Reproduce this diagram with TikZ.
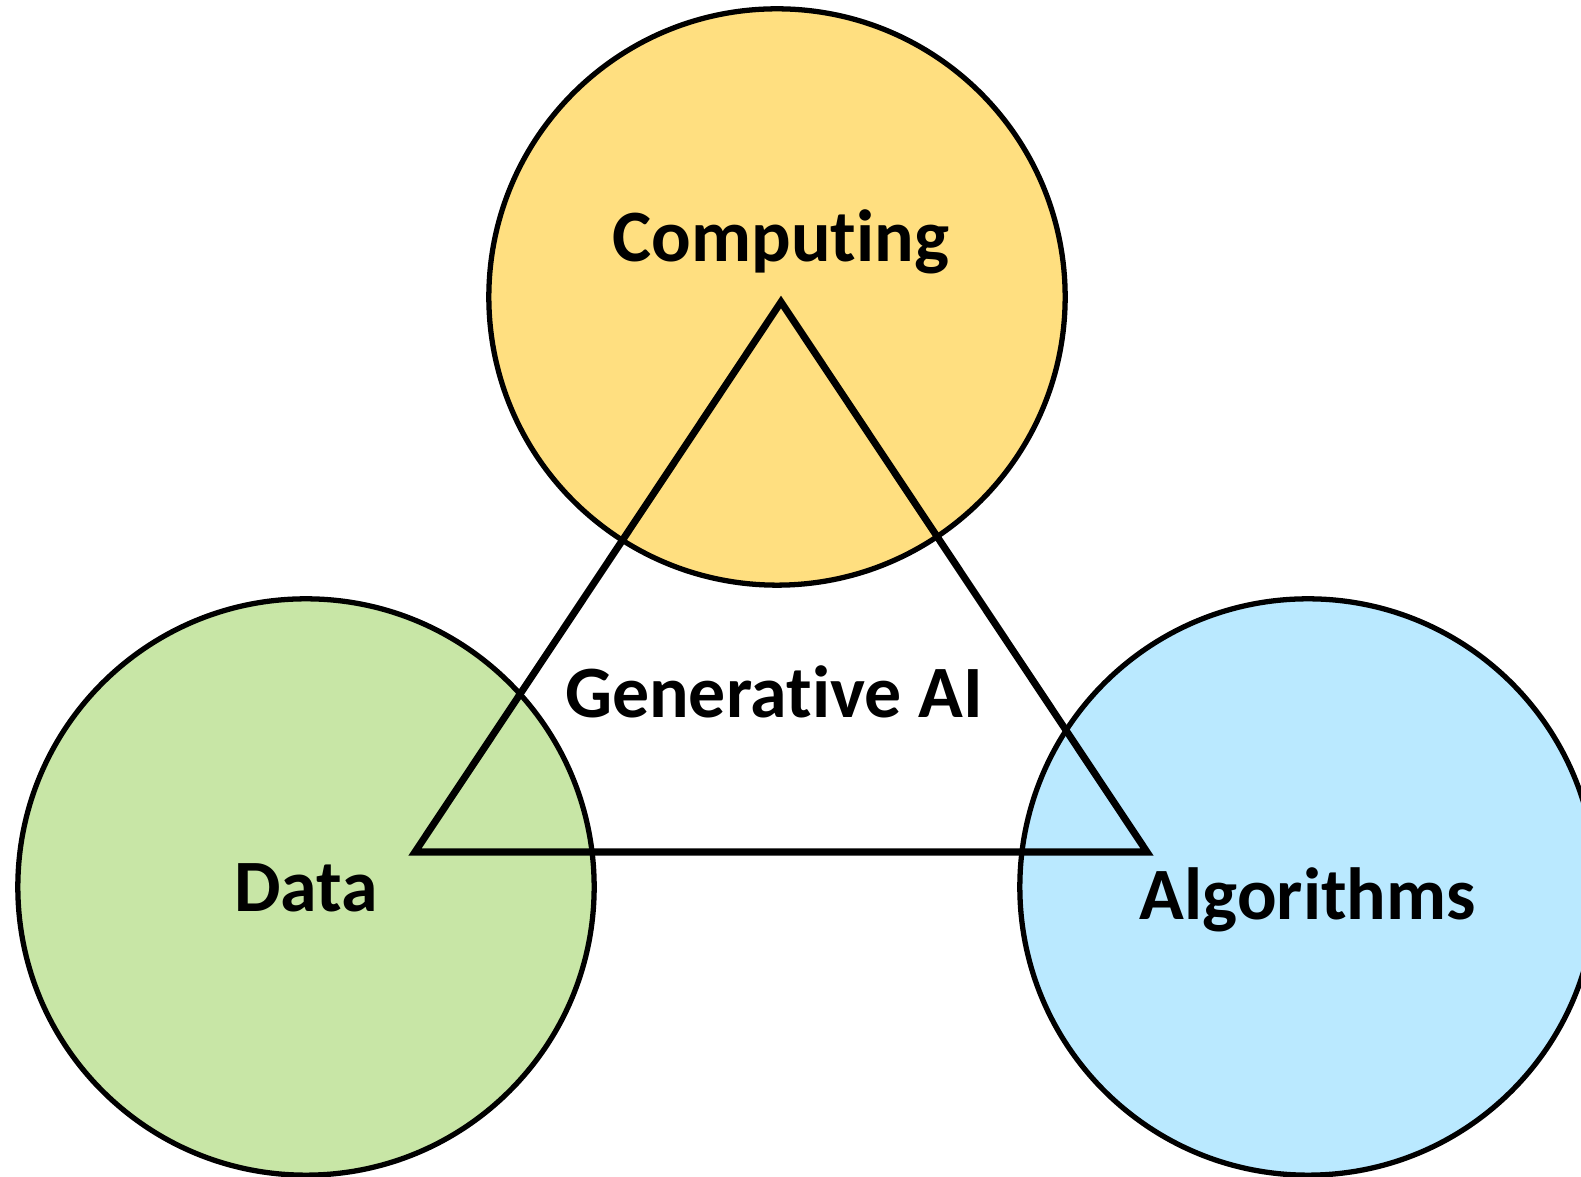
\documentclass[tikz,border=0pt]{standalone}
\usepackage{fontspec}
\setmainfont[Ligatures={NoCommon}]{Carlito}
\definecolor{compyellow}{HTML}{FFDF80}
\definecolor{datagreen}{HTML}{C8E6A6}
\definecolor{algoblue}{HTML}{BAE9FF}
\tikzset{
  pillar/.style={circle, draw=black, line width=1.5pt, minimum size=5.76cm, inner sep=0pt},
  lbl/.style={anchor=base, font=\fontsize{21}{25}\selectfont\bfseries, inner sep=0pt},
}
\begin{document}
\begin{tikzpicture}[x=0.01cm, y=-0.01cm]
            \useasboundingbox (0,0) rectangle (1581,1177);

            \node[pillar, fill=compyellow] (comp) at (777,297) {};
            \node[pillar, fill=datagreen] (data) at (306,887) {};
            \node[pillar, fill=algoblue] (algo) at (1308,887) {};

            \coordinate (top) at (781,302);
            \coordinate (left) at (415,852);
            \coordinate (right) at (1147,852);
            \draw[line width=2pt, miter limit=10] (top) -- (left) -- (right) -- cycle;

            \node[lbl] (compl) at (781,262) {Computing};
            \node[lbl] (genai) at (774,718) {Generative AI};
            \node[lbl] (datal) at (306,912) {Data};
            \node[lbl] (algol) at (1308,920) {Algorithms};
        \end{tikzpicture}
\end{document}
